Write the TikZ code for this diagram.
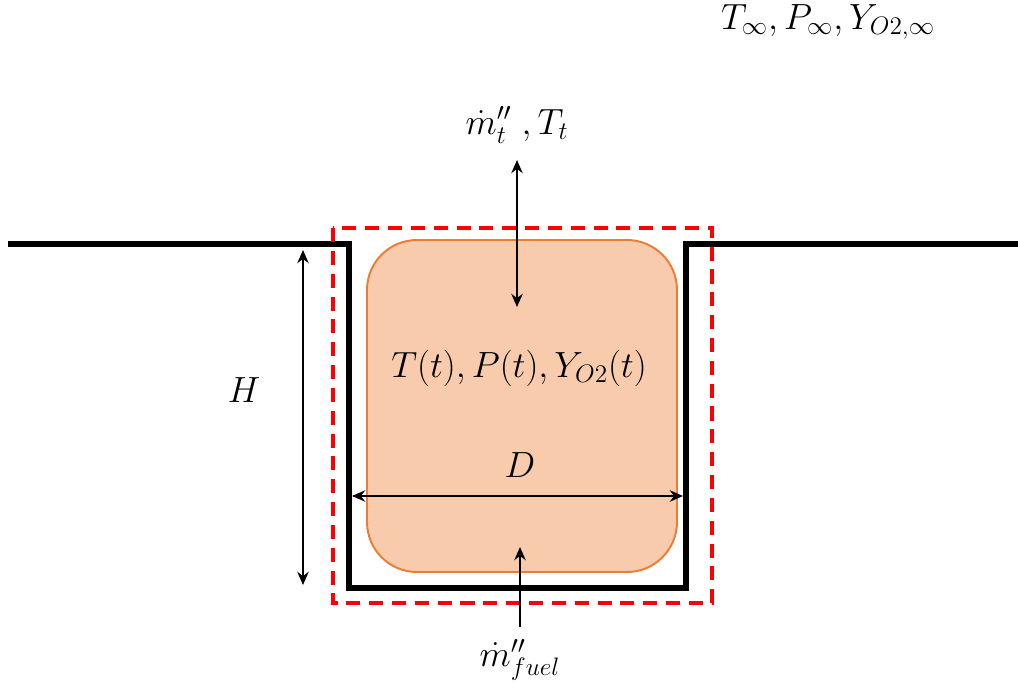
\documentclass[tikz,border=0pt]{standalone}
\usetikzlibrary{arrows.meta}
\definecolor{gasfill}{HTML}{F8CBAD}
\definecolor{gasline}{HTML}{ED7D31}
\begin{document}
\begin{tikzpicture}[x=0.02cm, y=-0.02cm, >={Stealth[length=7.5pt,width=6.5pt]}, font=\fontsize{20.5}{24}\selectfont,
	wall/.style={line width=3.4pt, line join=miter},
	cv/.style={red, line width=2pt, dash pattern=on 8pt off 5pt},
	dim/.style={line width=1.1pt}]
		\useasboundingbox (0,0) rectangle (1018,693);
		% gas volume
		\draw[gasline, fill=gasfill, line width=1.1pt, rounded corners=1cm] (367,240) rectangle (677,572);
		% ground and pit
		\draw[wall] (8,244) -- (349,244) -- (349,588) -- (686,588) -- (686,244) -- (1018,244);
		% control volume
		\draw[cv] (333,228) rectangle (712,603);
		% points
		\coordinate (hTop) at (303,250);
		\coordinate (hBot) at (303,585);
		\coordinate (dL) at (352,496);
		\coordinate (dR) at (683,496);
		\coordinate (tTop) at (517,160);
		\coordinate (tBot) at (517,307);
		\coordinate (fIn) at (520,627);
		\coordinate (fTip) at (520,547);
		% arrows
		\draw[dim, <->] (hTop) -- (hBot);
		\draw[dim, <->] (dL) -- (dR);
		\draw[dim, <->] (tTop) -- (tBot);
		\draw[dim, ->] (fIn) -- (fTip);
		% labels
		\node (amb) at (828,22) {$T_\infty, P_\infty, Y_{O2,\infty}$};
		\node (top) at (517,125) {$\dot{m}''_t\;, T_t$};
		\node (gas) at (519,368) {$T(t), P(t), Y_{O2}(t)$};
		\node (hlab) at (244,390) {$H$};
		\node (dlab) at (520,465) {$D$};
		\node (fuel) at (520,660) {$\dot{m}''_{fuel}$};
	\end{tikzpicture}
\end{document}
